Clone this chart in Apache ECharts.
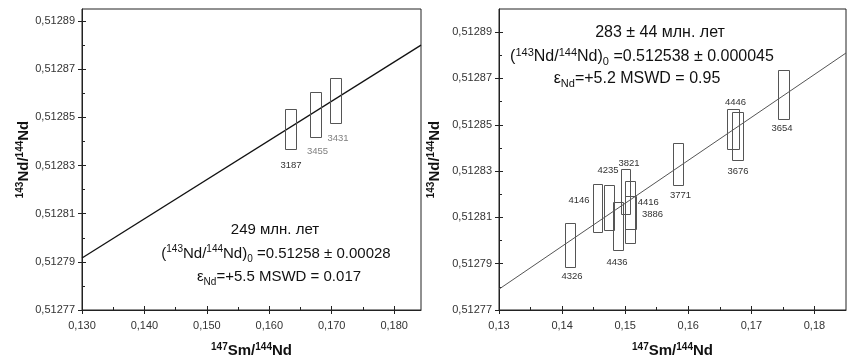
<!DOCTYPE html>
<html><head><meta charset="utf-8">
<script src="https://cdn.jsdelivr.net/npm/echarts@6/dist/echarts.min.js"></script>
<style>html,body{margin:0;padding:0;background:#fff}#c{width:847px;height:356px}</style>
</head><body><div id="c"></div>
<script>
// ---------- data ----------
const leftNames = ['3187', '3455', '3431'];
const leftX = [0.16341, 0.16747, 0.17063];
const leftY = [0.512845, 0.5128513, 0.5128571];
const leftXErr = [0.00083, 0.00088, 0.00088];
const leftYErr = [0.0000083, 0.0000093, 0.0000094];
const leftLineX = [0.130, 0.1843];
const leftLineY = [0.5127916, 0.5128800];

const rightNames = ['4326', '4146', '4235', '4436', '3821', '3886', '4416', '3771', '4446', '3676', '3654'];
const rightX = [0.14128, 0.14566, 0.14746, 0.14889, 0.15008, 0.15073, 0.15079, 0.15834, 0.16708, 0.16777, 0.17512];
const rightY = [0.5127981, 0.5128140, 0.5128142, 0.5128062, 0.5128212, 0.5128122, 0.5128121, 0.5128330, 0.5128483, 0.5128453, 0.5128630];
const rightXErr = [0.00075, 0.00071, 0.00077, 0.00079, 0.00076, 0.00083, 0.00087, 0.00082, 0.00090, 0.00085, 0.00090];
const rightYErr = [0.0000094, 0.0000105, 0.0000097, 0.0000103, 0.0000098, 0.0000133, 0.0000072, 0.0000092, 0.0000087, 0.0000104, 0.0000107];
const rightLineX = [0.130, 0.185];
const rightLineY = [0.512779, 0.512881];

const xTicks = [0.13, 0.14, 0.15, 0.16, 0.17, 0.18];
const xMinor = [0.135, 0.145, 0.155, 0.165, 0.175];
const leftXLabels = ['0,130', '0,140', '0,150', '0,160', '0,170', '0,180'];
const rightXLabels = ['0,13', '0,14', '0,15', '0,16', '0,17', '0,18'];
const yTicks = [0.51277, 0.51279, 0.51281, 0.51283, 0.51285, 0.51287, 0.51289];
const yMinor = [0.51278, 0.51280, 0.51282, 0.51284, 0.51286, 0.51288];
const yLabels = ['0,51277', '0,51279', '0,51281', '0,51283', '0,51285', '0,51287', '0,51289'];

const leftAnno = ['{m|249 млн. лет}',
  '{m|(}{s|143}{m|Nd/}{s|144}{m|Nd)}{b|0}{m| =0.51258 ± 0.00028}',
  '{m|ε}{b|Nd}{m|=+5.5 MSWD = 0.017}'];
const rightAnno = ['{m|283 ± 44 млн. лет}',
  '{m|(}{s|143}{m|Nd/}{s|144}{m|Nd)}{b|0}{m| =0.512538 ± 0.000045}',
  '{m|ε}{b|Nd}{m|=+5.2 MSWD = 0.95}'];
const yName = '{s|143}{n|Nd/}{s|144}{n|Nd}';
const xName = '{s|147}{n|Sm/}{s|144}{n|Nd}';

// ---------- styles ----------
const FONT = '"Liberation Sans", Arial, sans-serif';
const leftPlace = [['b', 0, 16], ['b', 1.5, 14], ['b', 2, 15]];
const leftLabelColor = ['#333', '#808080', '#808080'];
const rightPlace = [['b', 1.5, 8.5], ['l', -14.5, -8], ['t', -1.5, -15], ['b', -1.5, 12], ['t', 3, -6],
  ['r', 17, 1.7], ['r', 11.8, -10.6], ['b', 2, 9.5], ['t', 2, -7.6], ['b', 0, 10.7], ['b', -2, 9.3]];
const rightLabelColor = rightNames.map(() => '#333');

const nameStyle = {
  fontFamily: FONT, fontWeight: 'bold', fontSize: 15, color: '#111',
  rich: {
    n: {fontFamily: FONT, fontWeight: 'bold', fontSize: 15, color: '#111', lineHeight: 18},
    s: {fontFamily: FONT, fontWeight: 'bold', fontSize: 10, color: '#111', lineHeight: 10, verticalAlign: 'top'}
  }
};

function axisSet(dim, gi, min, max, ticks, labels, minor, name, nameGap) {
  const pos = dim === 'x' ? 'bottom' : 'left';
  const base = {type: 'value', gridIndex: gi, min: min, max: max, position: pos, splitLine: {show: false}, silent: true};
  const main = Object.assign({}, base, {
    axisLine: {show: true, onZero: false, lineStyle: {color: '#222', width: 1}},
    axisTick: {show: true, inside: false, length: 4, customValues: ticks, lineStyle: {color: '#222'}},
    axisLabel: {show: true, customValues: ticks, color: '#333', fontSize: 11, fontFamily: FONT,
      margin: dim === 'x' ? 10 : 7,
      formatter: function (v) { const i = ticks.findIndex(t => Math.abs(t - v) < 1e-9); return i >= 0 ? labels[i] : ''; }},
    name: name, nameLocation: 'middle', nameGap: nameGap, nameTextStyle: nameStyle
  });
  const inner = Object.assign({}, base, {
    axisLine: {show: false}, axisLabel: {show: false},
    axisTick: {show: true, inside: true, length: 4, customValues: ticks, lineStyle: {color: '#222'}}
  });
  const minorAx = Object.assign({}, base, {
    axisLine: {show: false}, axisLabel: {show: false},
    axisTick: {show: true, inside: true, length: 3, customValues: minor, lineStyle: {color: '#222'}}
  });
  return [main, inner, minorAx];
}

function makeRender(names, places, colors, stroke) {
  return function (params, api) {
    const i = params.dataIndex;
    const x = api.value(0), y = api.value(1), ex = api.value(2), ey = api.value(3);
    const p1 = api.coord([x - ex, y + ey]);
    const p2 = api.coord([x + ex, y - ey]);
    const l = Math.round(p1[0]) + 0.5, t = Math.round(p1[1]) + 0.5;
    const r = Math.round(p2[0]) + 0.5, b = Math.round(p2[1]) + 0.5;
    const pl = places[i];
    let ax = (l + r) / 2, ay = (t + b) / 2;
    if (pl[0] === 'b') ay = b; else if (pl[0] === 't') ay = t;
    else if (pl[0] === 'l') ax = l; else if (pl[0] === 'r') ax = r;
    return {
      type: 'group',
      children: [
        {type: 'rect', shape: {x: l, y: t, width: r - l, height: b - t},
          style: {fill: 'none', stroke: stroke, lineWidth: 1}},
        {type: 'text', x: ax + pl[1], y: ay + pl[2],
          style: {text: names[i], fontSize: 9.5, fontFamily: FONT, fill: colors[i], align: 'center', verticalAlign: 'middle'}}
      ]
    };
  };
}

function annoRich(size) {
  return {
    m: {fontSize: size, fontFamily: FONT, fill: '#111', lineHeight: 20},
    s: {fontSize: Math.round(size * 0.66), fontFamily: FONT, fill: '#111', lineHeight: 10, verticalAlign: 'top'},
    b: {fontSize: Math.round(size * 0.66), fontFamily: FONT, fill: '#111', lineHeight: 10, verticalAlign: 'bottom'}
  };
}
function annoText(lines, xs, ys, size) {
  return lines.map((t, i) => ({
    type: 'text', x: xs[i], y: ys[i], silent: true,
    style: {text: t, rich: annoRich(size), align: 'center', verticalAlign: 'middle', fontSize: size, fontFamily: FONT, fill: '#111'}
  }));
}

const lx = axisSet('x', 0, 0.13, 0.1843, xTicks, leftXLabels, xMinor, xName, 32);
const ly = axisSet('y', 0, 0.51277, 0.512895, yTicks, yLabels, yMinor, yName, 49);
const rx = axisSet('x', 1, 0.13, 0.185, xTicks, rightXLabels, xMinor, xName, 32);
const ry = axisSet('y', 1, 0.51277, 0.5129, yTicks, yLabels, yMinor, yName, 55);

const gridCommon = {top: 9, height: 301, show: true, borderColor: '#222', borderWidth: 1,
  backgroundColor: 'transparent', containLabel: false, outerBoundsMode: 'none'};

const chart = echarts.init(document.getElementById('c'), null, {renderer: 'canvas'});
chart.setOption({
  animation: false,
  backgroundColor: '#fff',
  grid: [
    Object.assign({left: 82, width: 339}, gridCommon),
    Object.assign({left: 499, width: 347}, gridCommon)
  ],
  xAxis: lx.concat(rx),
  yAxis: ly.concat(ry),
  series: [
    {type: 'line', xAxisIndex: 0, yAxisIndex: 0, data: leftLineX.map((x, i) => [x, leftLineY[i]]),
      symbol: 'none', lineStyle: {color: '#111', width: 1.3}, silent: true, z: 2},
    {type: 'custom', xAxisIndex: 0, yAxisIndex: 0, silent: true, z: 3,
      data: leftX.map((x, i) => [x, leftY[i], leftXErr[i], leftYErr[i]]),
      renderItem: makeRender(leftNames, leftPlace, leftLabelColor, '#555')},
    {type: 'line', xAxisIndex: 3, yAxisIndex: 3, data: rightLineX.map((x, i) => [x, rightLineY[i]]),
      symbol: 'none', lineStyle: {color: '#555', width: 1}, silent: true, z: 2},
    {type: 'custom', xAxisIndex: 3, yAxisIndex: 3, silent: true, z: 3,
      data: rightX.map((x, i) => [x, rightY[i], rightXErr[i], rightYErr[i]]),
      renderItem: makeRender(rightNames, rightPlace, rightLabelColor, '#555')}
  ],
  graphic: annoText(leftAnno, [275, 276, 279], [230, 254, 277], 15)
    .concat(annoText(rightAnno, [660, 642, 637], [33, 57, 79], 16))
});
</script>
</body></html>
